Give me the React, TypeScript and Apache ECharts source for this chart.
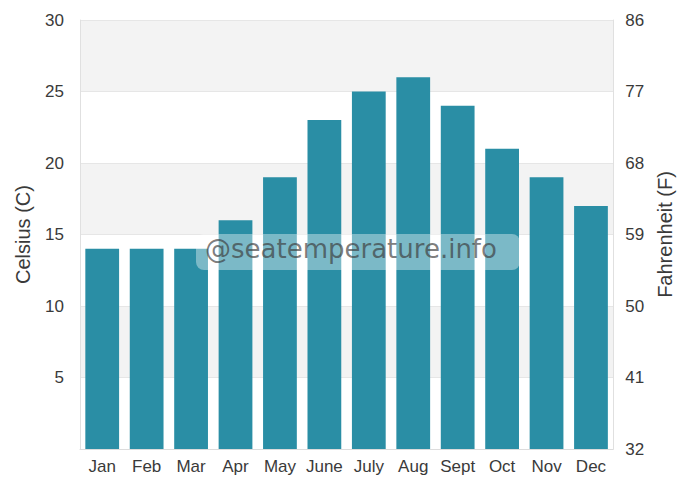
import React, { useEffect, useRef } from "react";
import * as echarts from "echarts";

const months = ["Jan", "Feb", "Mar", "Apr", "May", "June", "July", "Aug", "Sept", "Oct", "Nov", "Dec"];
const celsius = [14, 14, 14, 16, 19, 23, 25, 26, 24, 21, 19, 17];
const watermark = "@seatemperature.info";

export default function App() {
  const ref = useRef<HTMLDivElement>(null);
  useEffect(() => {
    if (!ref.current) return;
    const chart = echarts.init(ref.current, null, { renderer: "svg" });
    const labelFont = { fontFamily: "Liberation Sans, Arial, sans-serif", color: "#3a3a3a" };
    chart.setOption({
      animation: false,
      backgroundColor: "#ffffff",
      grid: { left: 80, right: 60, top: 20, bottom: 36, containLabel: false },
      xAxis: {
        type: "category",
        data: months,
        axisLine: { show: true, lineStyle: { color: "#dcdcdc" } },
        axisTick: { show: false },
        axisLabel: { ...labelFont, fontSize: 17, margin: 9, interval: 0, hideOverlap: false },
      },
      yAxis: [
        {
          type: "value",
          min: 0,
          max: 30,
          interval: 5,
          position: "left",
          name: "Celsius (C)",
          nameLocation: "middle",
          nameGap: 47,
          nameTextStyle: { ...labelFont, fontSize: 20 },
          axisLine: { show: true, lineStyle: { color: "#e0e0e0" } },
          axisTick: { show: false },
          axisLabel: { ...labelFont, fontSize: 17, margin: 16, formatter: (v: number) => (v === 0 ? "" : String(v)) },
          splitLine: { show: true, lineStyle: { color: "#e6e6e6" } },
          splitArea: { show: true, areaStyle: { color: ["#ffffff", "#f3f3f3"] } },
        },
        {
          type: "value",
          min: 0,
          max: 30,
          interval: 5,
          position: "right",
          name: "Fahrenheit (F)",
          nameLocation: "middle",
          nameGap: 40,
          nameTextStyle: { ...labelFont, fontSize: 20 },
          axisLine: { show: true, lineStyle: { color: "#e0e0e0" } },
          axisTick: { show: false },
          axisLabel: { ...labelFont, fontSize: 17, margin: 12, formatter: (v: number) => String(Math.round(v * 1.8 + 32)) },
          splitLine: { show: false },
        },
      ],
      series: [
        {
          type: "bar",
          data: celsius,
          yAxisIndex: 0,
          barCategoryGap: "24%",
          itemStyle: { color: "#2a8ea5" },
        },
      ],
      graphic: [
        {
          type: "rect",
          left: 196,
          top: 234,
          z: 100,
          shape: { x: 0, y: 0, width: 324, height: 36, r: 8 },
          style: { fill: "rgba(255,255,255,0.38)" },
        },
        {
          type: "text",
          left: 205,
          top: 236,
          z: 101,
          style: {
            text: watermark,
            fontFamily: "DejaVu Sans, sans-serif",
            fontSize: 26,
            fill: "rgba(60,60,60,0.68)",
          },
        },
      ],
    });
    return () => chart.dispose();
  }, []);
  return <div ref={ref} style={{ position: "fixed", left: 0, top: 0, width: 683, height: 485 }} />;
}
